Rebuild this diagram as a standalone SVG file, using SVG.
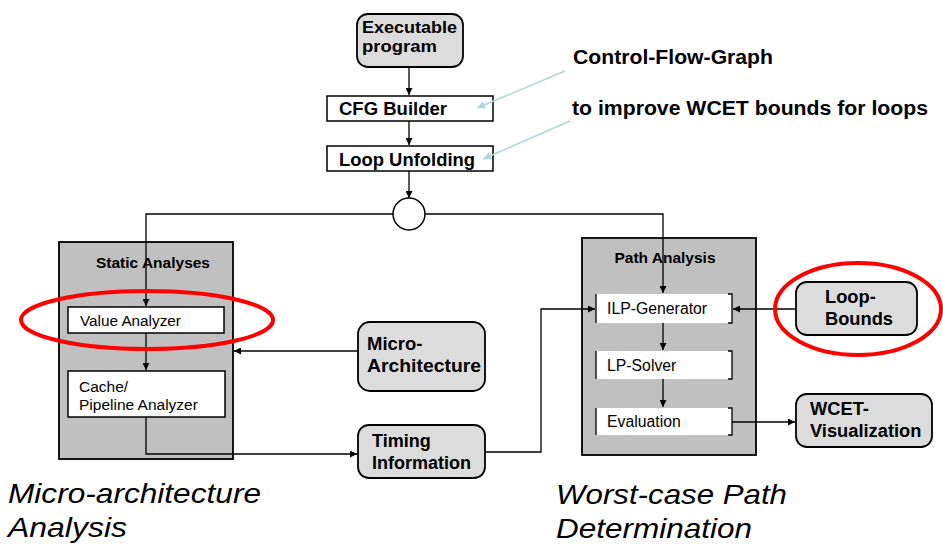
<svg xmlns="http://www.w3.org/2000/svg" width="943" height="546" viewBox="0 0 943 546">
  <style>
    .bold { font-family: "Liberation Sans", Arial, sans-serif; font-weight: bold; fill: #000; }
    .reg { font-family: "Liberation Sans", Arial, sans-serif; fill: #000; }
    .ital { font-family: "Liberation Sans", Arial, sans-serif; font-style: italic; font-size: 28.5px; fill: #000; }
    .node { fill: #dcdcdc; stroke: #000; stroke-width: 1.8; }
    .step { fill: #fff; stroke: #000; stroke-width: 1.5; }
    .group { fill: #c0c0c0; stroke: #000; stroke-width: 1.8; }
    .inner { fill: #fff; stroke: none; }
    .edge { fill: none; stroke: #000; stroke-width: 1.3; }
    .note { fill: none; stroke: #a9d9dd; stroke-width: 1.5; }
    .mark { fill: none; stroke: #ff0000; stroke-width: 4; }
  </style>
  <defs>
    <marker id="arr" viewBox="0 0 10 10" refX="10" refY="5" markerWidth="8" markerHeight="7" markerUnits="userSpaceOnUse" orient="auto">
      <path d="M0,0 L10,5 L0,10 z" fill="#000"/>
    </marker>
    <marker id="arrNote" viewBox="0 0 10 10" refX="10" refY="5" markerWidth="10" markerHeight="8" markerUnits="userSpaceOnUse" orient="auto">
      <path d="M0,0 L10,5 L0,10 z" fill="#a9d9dd"/>
    </marker>
  </defs>

  <!-- container groups -->
  <g id="static-analyses">
    <rect class="group" x="59" y="242" width="174" height="217"/>
    <text class="bold" x="153" y="268" font-size="15.5" text-anchor="middle">Static Analyses</text>
  </g>
  <g id="path-analysis">
    <rect class="group" x="582" y="238" width="174" height="217"/>
    <text class="bold" x="665" y="263" font-size="15.5" text-anchor="middle">Path Analysis</text>
  </g>

  <!-- top chain -->
  <g id="executable-program">
    <rect class="node" x="357" y="14" width="106" height="53" rx="11"/>
    <text class="bold" x="362" y="33" font-size="16.5" textLength="95" lengthAdjust="spacingAndGlyphs">Executable</text>
    <text class="bold" x="362" y="52" font-size="16.5" textLength="75" lengthAdjust="spacingAndGlyphs">program</text>
  </g>
  <g id="cfg-builder">
    <rect class="step" x="327" y="96" width="166" height="25"/>
    <text class="bold" x="339" y="115" font-size="18" textLength="108" lengthAdjust="spacingAndGlyphs">CFG Builder</text>
  </g>
  <g id="loop-unfolding">
    <rect class="step" x="327" y="146" width="166" height="25"/>
    <text class="bold" x="339" y="166" font-size="18" textLength="136" lengthAdjust="spacingAndGlyphs">Loop Unfolding</text>
  </g>
  <g id="junction">
    <circle cx="409" cy="214" r="16" fill="#fff" stroke="#000" stroke-width="1.5"/>
  </g>

  <!-- static analysis steps -->
  <g id="value-analyzer">
    <rect class="step" x="68" y="307" width="156" height="26" stroke-width="1.3"/>
    <text class="reg" x="80" y="326" font-size="15.3">Value Analyzer</text>
  </g>
  <g id="cache-pipeline-analyzer">
    <rect class="step" x="68" y="371" width="157" height="46" stroke-width="1.3"/>
    <text class="reg" x="79" y="392" font-size="15.5">Cache/</text>
    <text class="reg" x="79" y="410" font-size="15.5">Pipeline Analyzer</text>
  </g>

  <!-- inputs / outputs -->
  <g id="micro-architecture">
    <rect class="node" x="358" y="322" width="127" height="69" rx="12"/>
    <text class="bold" x="367" y="350" font-size="18.5">Micro-</text>
    <text class="bold" x="367" y="372" font-size="18.5" textLength="114" lengthAdjust="spacingAndGlyphs">Architecture</text>
  </g>
  <g id="timing-information">
    <rect class="node" x="358" y="425" width="127" height="53" rx="11"/>
    <text class="bold" x="372" y="447" font-size="18">Timing</text>
    <text class="bold" x="372" y="469" font-size="18" textLength="99" lengthAdjust="spacingAndGlyphs">Information</text>
  </g>
  <g id="loop-bounds">
    <rect class="node" x="796" y="282" width="121" height="53" rx="11"/>
    <text class="bold" x="825" y="303" font-size="18.3">Loop-</text>
    <text class="bold" x="825" y="325" font-size="18.3">Bounds</text>
  </g>
  <g id="wcet-visualization">
    <rect class="node" x="796" y="394" width="136" height="53" rx="11"/>
    <text class="bold" x="810" y="415" font-size="18.3">WCET-</text>
    <text class="bold" x="810" y="437" font-size="18.3">Visualization</text>
  </g>

  <!-- path analysis steps: white boxes with side brackets -->
  <g id="ilp-generator">
    <rect class="inner" x="596" y="294" width="136" height="29"/>
    <path class="edge" d="M596,294 V323 M728,294 H732 V323 H728"/>
    <text class="reg" x="607" y="314" font-size="15.8">ILP-Generator</text>
  </g>
  <g id="lp-solver">
    <rect class="inner" x="596" y="351" width="136" height="28"/>
    <path class="edge" d="M596,351 V379 M728,351 H732 V379 H728"/>
    <text class="reg" x="607" y="371" font-size="15.8">LP-Solver</text>
  </g>
  <g id="evaluation">
    <rect class="inner" x="596" y="408" width="136" height="27"/>
    <path class="edge" d="M596,408 V435 M728,408 H732 V435 H728"/>
    <text class="reg" x="607" y="427" font-size="15.8">Evaluation</text>
  </g>

  <!-- connectors -->
  <g id="connectors">
    <path class="edge" d="M409,67 V95" marker-end="url(#arr)"/>
    <path class="edge" d="M409,121 V145" marker-end="url(#arr)"/>
    <path class="edge" d="M409,171 V198" marker-end="url(#arr)"/>
    <path class="edge" d="M393,214 H146 V306" marker-end="url(#arr)"/>
    <path class="edge" d="M425,214 H663 V293" marker-end="url(#arr)"/>
    <path class="edge" d="M146,333 V370" marker-end="url(#arr)"/>
    <path class="edge" d="M358,351 H234" marker-end="url(#arr)"/>
    <path class="edge" d="M146,417 V454 H357" marker-end="url(#arr)"/>
    <path class="edge" d="M485,452 H541 V309 H595" marker-end="url(#arr)"/>
    <path class="edge" d="M796,309 H733" marker-end="url(#arr)"/>
    <path class="edge" d="M663,323 V350" marker-end="url(#arr)"/>
    <path class="edge" d="M663,379 V407" marker-end="url(#arr)"/>
    <path class="edge" d="M732,422 H795" marker-end="url(#arr)"/>
    <!-- annotation pointers -->
    <path class="note" d="M565,71 L477,108" marker-end="url(#arrNote)"/>
    <path class="note" d="M570,121 L483,159" marker-end="url(#arrNote)"/>
  </g>

  <!-- annotations -->
  <text class="bold" x="573" y="64" font-size="19.5" textLength="200" lengthAdjust="spacingAndGlyphs">Control-Flow-Graph</text>
  <text class="bold" x="572" y="115" font-size="19.5" textLength="356" lengthAdjust="spacingAndGlyphs">to improve WCET bounds for loops</text>

  <!-- highlight rings -->
  <ellipse class="mark" cx="147" cy="320" rx="126" ry="29"/>
  <ellipse class="mark" cx="858" cy="309" rx="83" ry="46"/>

  <!-- captions -->
  <text class="ital" x="8" y="503" textLength="253" lengthAdjust="spacingAndGlyphs">Micro-architecture</text>
  <text class="ital" x="8" y="537" textLength="119" lengthAdjust="spacingAndGlyphs">Analysis</text>
  <text class="ital" x="556" y="504" textLength="231" lengthAdjust="spacingAndGlyphs">Worst-case Path</text>
  <text class="ital" x="556" y="538" textLength="196" lengthAdjust="spacingAndGlyphs">Determination</text>
</svg>
